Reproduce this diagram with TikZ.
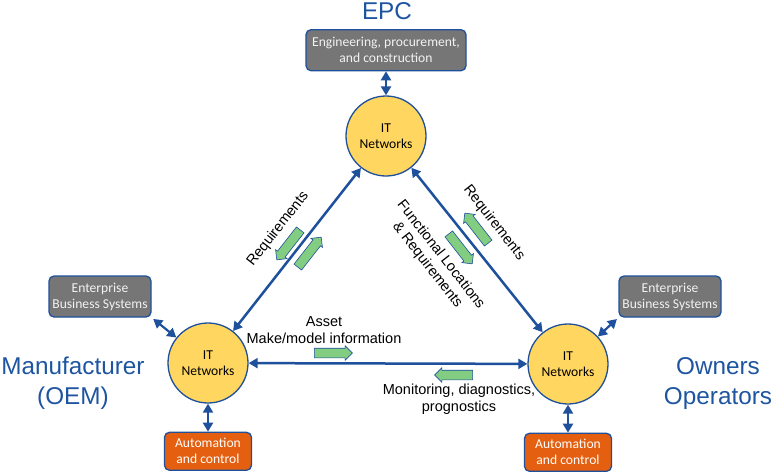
\documentclass[tikz,border=0pt]{standalone}
\usepackage{fontspec}
\setmainfont{Liberation Sans}
\newfontfamily\calibri{Carlito}
\usetikzlibrary{shapes,arrows.meta,positioning}
\definecolor{lineblue}{RGB}{30,80,155}
\definecolor{titleblue}{RGB}{30,85,160}
\definecolor{netyellow}{RGB}{255,214,95}
\definecolor{boxgray}{RGB}{118,118,118}
\definecolor{boxorange}{RGB}{228,95,15}
\definecolor{flowgreen}{RGB}{130,205,130}

\begin{document}
\begin{tikzpicture}[x=1pt,y=-1pt,
  network/.style={circle, draw=lineblue, line width=1.3pt, fill=netyellow, minimum size=80pt, inner sep=0pt, align=center, font=\calibri\fontsize{13.6}{16}\selectfont},
  system/.style={rectangle, rounded corners=5pt, draw=lineblue, line width=1.3pt, fill=boxgray, text=white!95!black, align=center, inner sep=0pt, font=\calibri\fontsize{13.6}{16}\selectfont},
  control/.style={system, fill=boxorange, text=white},
  party/.style={text=titleblue, align=center, font=\fontsize{24.3}{30}\selectfont},
  flowlabel/.style={align=center, font=\fontsize{14.5}{17}\selectfont},
  flow/.style={single arrow, draw=lineblue, line width=0.6pt, fill=flowgreen, minimum height=38pt, inner xsep=0pt, inner ysep=4.5pt, single arrow head extend=2.5pt},
  link/.style={draw=lineblue, line width=2.5pt, {Triangle[length=9pt,width=10pt]}-{Triangle[length=9pt,width=10pt]}}]

\useasboundingbox (0,0) rectangle (775,474);

% NETWORKS

\node[network] (epcnet) at (386,136) {IT\\Networks};
\node[network] (oemnet) at (208,363) {IT\\Networks};
\node[network] (ownnet) at (568,364) {IT\\Networks};

% SYSTEMS

\node[system, minimum width=160pt, minimum height=41pt, above=24pt of epcnet] (epcbox) {Engineering, procurement,\\and construction};
\node[system, minimum width=102pt, minimum height=41pt] (oemerp) at (100,296.5) {Enterprise\\Business Systems};
\node[system, minimum width=102pt, minimum height=41pt] (ownerp) at (670,296.5) {Enterprise\\Business Systems};
\node[control, minimum width=87pt, minimum height=38pt, below=28pt of oemnet] (oemctrl) {Automation\\and control};
\node[control, minimum width=87pt, minimum height=38pt, below=28pt of ownnet] (ownctrl) {Automation\\and control};

% PARTIES

\node[party] (epctitle) at (387,11) {EPC};
\node[party] (oemtitle) at (73,383) {Manufacturer\\(OEM)};
\node[party] (owntitle) at (718,384) {Owners\\Operators};

% LINKS

\draw[link] (oemnet) -- (epcnet);
\draw[link] (epcnet) -- (ownnet);
\draw[link] (oemnet) -- (ownnet);
\draw[link, line width=2.2pt] (epcbox) -- (epcnet);
\draw[link, line width=2.2pt, shorten <=2pt] (oemerp.south east) -- (oemnet);
\draw[link, line width=2.2pt, shorten <=2pt] (ownerp.south west) -- (ownnet);
\draw[link, line width=2.2pt] (oemnet) -- (oemctrl);
\draw[link, line width=2.2pt] (ownnet) -- (ownctrl);

% FLOWS

\node[flowlabel, rotate=52] (reqleft) at (278,229) {Requirements};
\node[flow, rotate=232] (reqdown) at (290,243) {};
\node[flow, rotate=52] (requp) at (308,254) {};

\node[flowlabel, rotate=-52] (reqright) at (494,223) {Requirements};
\node[flowlabel, rotate=-52] (funcloc) at (434,260) {Functional Locations\\\& Requirements};
\node[flow, rotate=-52] (funcdown) at (459,247) {};
\node[flow, rotate=128] (reqback) at (478,230) {};

\node[flowlabel] (asset) at (324,330) {Asset\\Make/model information};
\node[flow] (assetflow) at (331,353) {};
\node[flow, rotate=180] (monflow) at (456,375) {};
\node[flowlabel] (monitor) at (459,399) {Monitoring, diagnostics,\\prognostics};

\end{tikzpicture}
\end{document}
